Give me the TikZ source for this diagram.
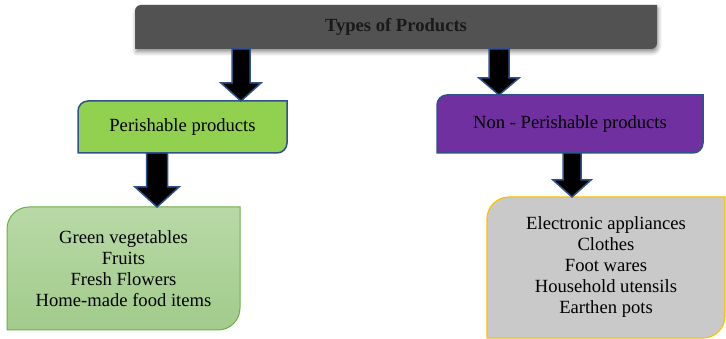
\documentclass[tikz,border=0pt]{standalone}
\usepackage{fontspec}
\setmainfont{Liberation Serif}
\usetikzlibrary{calc,backgrounds,shadows.blur}
\definecolor{topgray}{HTML}{525252}
\definecolor{pergreen}{HTML}{92D050}
\definecolor{nonpurple}{HTML}{7030A0}
\definecolor{edgeblue}{HTML}{2F528F}
\definecolor{listgreenT}{RGB}{184,217,166}
\definecolor{listgreenB}{RGB}{162,203,140}
\definecolor{listgreenE}{HTML}{70AD47}
\definecolor{listgray}{RGB}{201,201,201}
\definecolor{listgold}{HTML}{FFC000}
% box with rounded top-left and bottom-right corners, drawn around node #1
\newcommand\diagbox[3]{%
  \path[#3] ([yshift=-#2pt]#1.north west) arc[start angle=180,end angle=90,radius=#2pt]
    -- (#1.north east) -- ([yshift=#2pt]#1.south east)
    arc[start angle=0,end angle=-90,radius=#2pt] -- (#1.south west) -- cycle;}
% block arrow: #1 x-coordinate, #2 from node, #3 to node, #4 shaft half width, #5 head half width, #6 head length
\newcommand\blockarr[6]{%
  \draw[arrowsty] let \p1=(#1 |- #2.south), \p2=(#1 |- #3.north) in
    (\x1-#4pt,\y1) -- (\x1+#4pt,\y1) -- (\x1+#4pt,\y2+#6pt) -- (\x1+#5pt,\y2+#6pt)
    -- (\x2,\y2) -- (\x1-#5pt,\y2+#6pt) -- (\x1-#4pt,\y2+#6pt) -- cycle;}
\begin{document}
\begin{tikzpicture}[x=1pt,y=1pt,
  boxnode/.style={inner sep=0pt, outer sep=0pt, align=center, text=black,
    font=\fontsize{18.6}{21}\selectfont},
  arrowsty/.style={fill=black, draw=edgeblue, line width=1.5pt, line join=miter}]
\useasboundingbox (0,0) rectangle (726,339);
\node[boxnode, minimum width=522pt, minimum height=44pt,
  font=\fontsize{18.6}{21}\selectfont\bfseries, text=black!90] (top) at (396,312) {Types of Products};
\node[boxnode, minimum width=209pt, minimum height=52pt] (per) at (182.5,212) {Perishable products};
\node[boxnode, minimum width=266pt, minimum height=58pt] (non) at (570,215) {Non - Perishable products};
\node[boxnode, minimum width=233pt, minimum height=123pt] (pl) at (123.5,70.5)
  {Green vegetables\\Fruits\\Fresh Flowers\\Home-made food items};
\node[boxnode, minimum width=238pt, minimum height=141pt] (nl) at (606,71.5)
  {Electronic appliances\\Clothes\\Foot wares\\Household utensils\\Earthen pots};
\begin{scope}[on background layer]
  \diagbox{top}{6}{fill=topgray, blur shadow={shadow xshift=1pt, shadow yshift=-3pt, shadow blur radius=4pt, shadow opacity=45}}
  \diagbox{per}{10}{fill=pergreen, draw=edgeblue, line width=1.5pt}
  \diagbox{non}{10}{fill=nonpurple, draw=edgeblue, line width=1.5pt}
  \diagbox{pl}{22}{top color=listgreenT, bottom color=listgreenB, draw=listgreenE, line width=1pt}
  \diagbox{nl}{22}{fill=listgray, draw=listgold, line width=1.2pt}
\end{scope}
\coordinate (c1) at (241,0);
\coordinate (c2) at (499,0);
\coordinate (c3) at (157,0);
\coordinate (c4) at (572,0);
\blockarr{c1}{top}{per}{9}{20}{18}
\blockarr{c2}{top}{non}{10}{20}{17}
\blockarr{c3}{per}{pl}{10.5}{22}{20}
\blockarr{c4}{non}{nl}{9}{19}{17}
\end{tikzpicture}
\end{document}
